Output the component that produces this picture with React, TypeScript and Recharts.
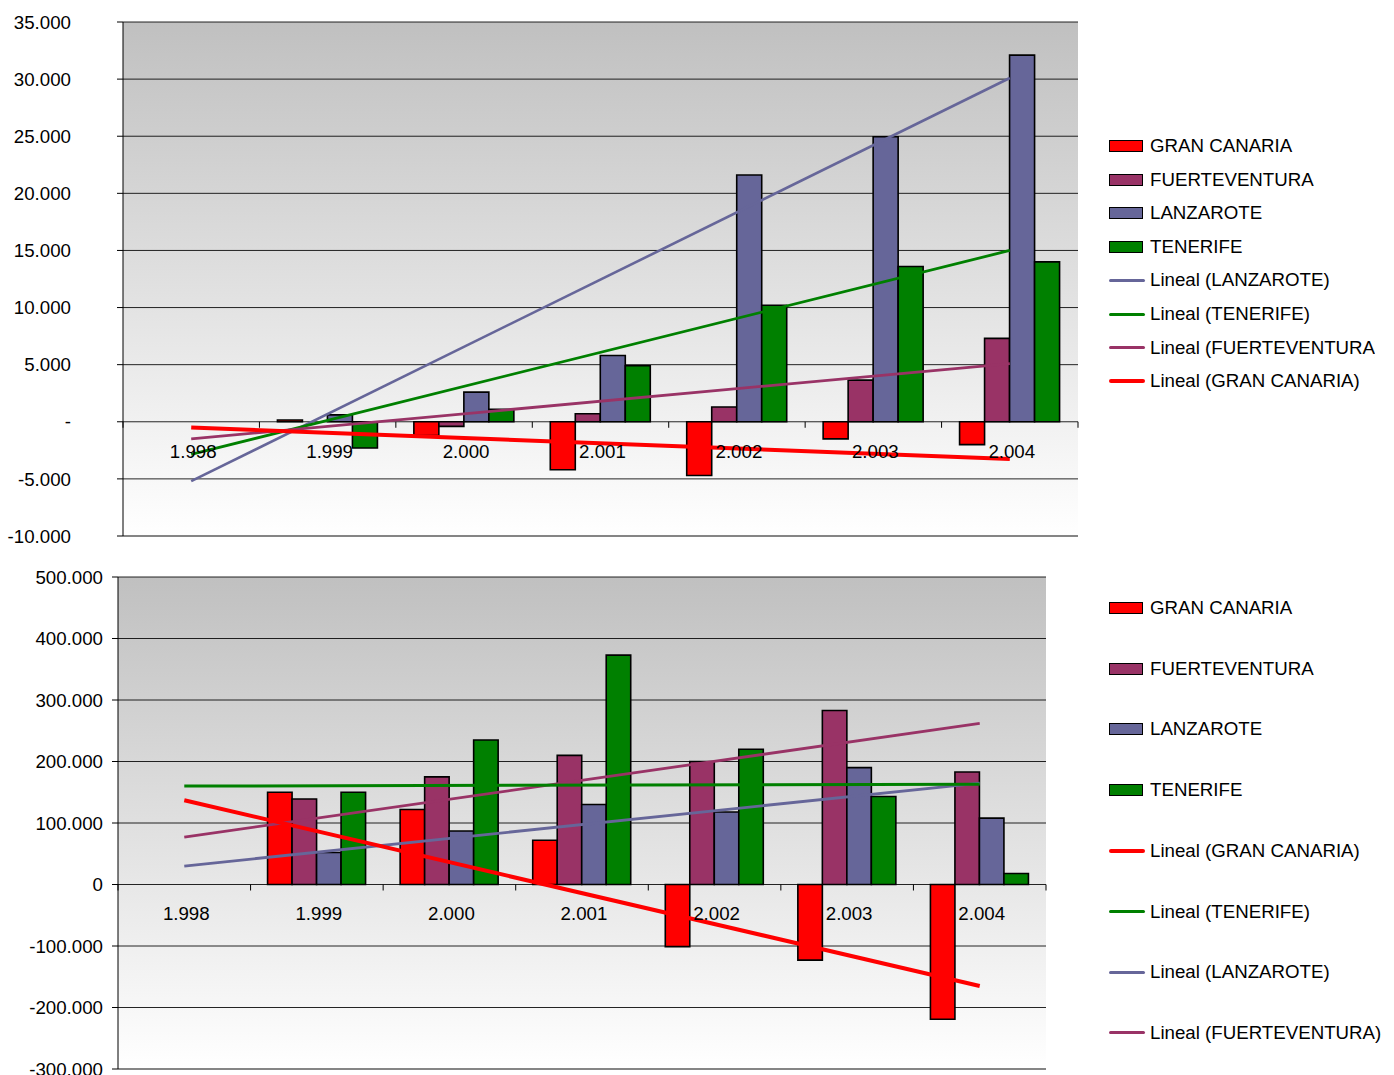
import { Bar, CartesianGrid, ComposedChart, Line, XAxis, YAxis } from 'recharts';

const FONT = '"Liberation Sans", Arial, sans-serif';
const FS = 18.7;

const years = ['1.998', '1.999', '2.000', '2.001', '2.002', '2.003', '2.004'];

// upper panel
const gcTop = [0, 150, -1200, -4200, -4700, -1500, -2000];
const fvTop = [0, 0, -400, 700, 1300, 3650, 7300];
const lzTop = [0, 600, 2600, 5800, 21600, 24950, 32100];
const tfTop = [0, -2300, 1100, 4900, 10200, 13600, 14000];
const gcTrendTop = [-500, null, null, null, null, null, -3250];
const fvTrendTop = [-1500, null, null, null, null, null, 5100];
const lzTrendTop = [-5200, null, null, null, null, null, 30100];
const tfTrendTop = [-2850, null, null, null, null, null, 15000];
const topTicks = [-10000, -5000, 0, 5000, 10000, 15000, 20000, 25000, 30000, 35000];

// lower panel
const gcBot = [0, 150000, 122000, 72000, -101000, -123000, -219000];
const fvBot = [0, 139000, 175000, 210000, 200000, 283000, 183000];
const lzBot = [0, 52000, 87000, 130000, 118000, 190000, 108000];
const tfBot = [0, 150000, 235000, 373000, 220000, 143000, 18000];
const gcTrendBot = [137000, null, null, null, null, null, -165000];
const fvTrendBot = [77000, null, null, null, null, null, 262000];
const lzTrendBot = [30000, null, null, null, null, null, 165000];
const tfTrendBot = [160000, null, null, null, null, null, 163000];
const botTicks = [-300000, -200000, -100000, 0, 100000, 200000, 300000, 400000, 500000];

const RED = '#ff0000';
const PLUM = '#993366';
const SLATE = '#666699';
const GREEN = '#008000';

function rows(gc: number[], fv: number[], lz: number[], tf: number[], tgc: any[], tfv: any[], tlz: any[], ttf: any[]) {
  return years.map((year, i) => ({
    year,
    gc: gc[i],
    fv: fv[i],
    lz: lz[i],
    tf: tf[i],
    tgc: tgc[i],
    tfv: tfv[i],
    tlz: tlz[i],
    ttf: ttf[i],
  }));
}

function fmt(v: number, zero: string) {
  if (v === 0) return zero;
  const s = Math.abs(v).toString().replace(/\B(?=(\d{3})+(?!\d))/g, '.');
  return (v < 0 ? '-' : '') + s;
}

// category labels sit under the zero line, not at the bottom of the plot
function zeroTick(plotTop: number, plotH: number, yMin: number, yMax: number, band: number, labelDy: number) {
  const zeroY = plotTop + (yMax / (yMax - yMin)) * plotH;
  return (props: any) => {
    const { x, payload, index } = props;
    return (
      <g>
        <line x1={x - band / 2} x2={x - band / 2} y1={zeroY} y2={zeroY + 6} stroke="#000" />
        {index === years.length - 1 && (
          <line x1={x + band / 2} x2={x + band / 2} y1={zeroY} y2={zeroY + 6} stroke="#000" />
        )}
        <text x={x + 2} y={zeroY + labelDy} textAnchor="middle" fontSize={FS} fontFamily={FONT} fill="#000">
          {payload.value}
        </text>
      </g>
    );
  };
}

interface PanelProps {
  id: string;
  data: any[];
  top: number;
  height: number;
  margin: { top: number; right: number; bottom: number; left: number };
  axisHeight: number;
  axisWidth: number;
  tickMargin: number;
  ticks: number[];
  zeroLabel: string;
  barSize: number;
  widths: { gc: number; fv: number; lz: number; tf: number };
  order: string[];
  labelDy: number;
}

function Panel(p: PanelProps) {
  const yMin = p.ticks[0];
  const yMax = p.ticks[p.ticks.length - 1];
  const width = 1394;
  const plotH = p.height - p.margin.top - p.margin.bottom - p.axisHeight;
  const band = (width - p.margin.right - p.axisWidth) / years.length;
  const trendColor: Record<string, string> = { tgc: RED, tfv: PLUM, tlz: SLATE, ttf: GREEN };
  const trendWidth: Record<string, number> = { tgc: p.widths.gc, tfv: p.widths.fv, tlz: p.widths.lz, ttf: p.widths.tf };
  return (
    <div style={{ position: 'absolute', left: 0, top: p.top }}>
      <ComposedChart width={width} height={p.height} data={p.data} margin={p.margin} barGap={0}>
        <defs>
          <linearGradient id={p.id} x1="0" y1="0" x2="0" y2="1">
            <stop offset="0%" stopColor="#c0c0c0" />
            <stop offset="100%" stopColor="#ffffff" />
          </linearGradient>
        </defs>
        <CartesianGrid vertical={false} stroke="#000" strokeOpacity={0.85} fill={`url(#${p.id})`} fillOpacity={1} />
        <XAxis
          dataKey="year"
          height={p.axisHeight}
          interval={0}
          tickLine={false}
          axisLine={{ stroke: '#808080', strokeWidth: 1.5 }}
          tick={zeroTick(p.margin.top, plotH, yMin, yMax, band, p.labelDy)}
        />
        <XAxis xAxisId="top" dataKey="year" orientation="top" height={0} tick={false} tickLine={false} axisLine={{ stroke: '#808080', strokeWidth: 1.5 }} />
        <YAxis
          domain={[yMin, yMax]}
          ticks={p.ticks}
          width={p.axisWidth}
          interval={0}
          tickSize={6}
          tickMargin={p.tickMargin}
          axisLine={{ stroke: '#000' }}
          tickLine={{ stroke: '#000' }}
          tick={{ fill: '#000', fontSize: FS, fontFamily: FONT }}
          tickFormatter={(v: number) => fmt(v, p.zeroLabel)}
        />
        <YAxis yAxisId="right" orientation="right" width={0} domain={[0, 1]} tick={false} tickLine={false} axisLine={{ stroke: '#808080', strokeWidth: 1.5 }} />
        <Bar dataKey="gc" name="GRAN CANARIA" fill={RED} stroke="#000" strokeWidth={1.6} barSize={p.barSize} isAnimationActive={false} />
        <Bar dataKey="fv" name="FUERTEVENTURA" fill={PLUM} stroke="#000" strokeWidth={1.6} barSize={p.barSize} isAnimationActive={false} />
        <Bar dataKey="lz" name="LANZAROTE" fill={SLATE} stroke="#000" strokeWidth={1.6} barSize={p.barSize} isAnimationActive={false} />
        <Bar dataKey="tf" name="TENERIFE" fill={GREEN} stroke="#000" strokeWidth={1.6} barSize={p.barSize} isAnimationActive={false} />
        {p.order.map((k) => (
          <Line
            key={k}
            dataKey={k}
            type="linear"
            stroke={trendColor[k]}
            strokeWidth={trendWidth[k]}
            dot={false}
            activeDot={false}
            connectNulls
            isAnimationActive={false}
          />
        ))}
      </ComposedChart>
    </div>
  );
}

interface LegendItem {
  label: string;
  color: string;
  kind: 'bar' | 'line';
  thick?: number;
}

function SideLegend({ items, top, gap, clip }: { items: LegendItem[]; top: number; gap: number; clip?: number }) {
  return (
    <div
      style={{
        position: 'absolute',
        left: 1109,
        top: 0,
        width: clip ?? 285,
        height: 1075,
        overflow: 'hidden',
        fontFamily: FONT,
        fontSize: FS,
        color: '#000',
      }}
    >
      {items.map((it, i) => (
        <div
          key={it.label}
          style={{
            position: 'absolute',
            left: 0,
            top: top + i * gap - 11,
            height: 22,
            display: 'flex',
            alignItems: 'center',
            whiteSpace: 'nowrap',
          }}
        >
          {it.kind === 'bar' ? (
            <div style={{ width: 34, height: 12, boxSizing: 'border-box', background: it.color, border: '1.6px solid #000', marginRight: 7 }} />
          ) : (
            <div style={{ width: 36, height: it.thick ?? 2.5, background: it.color, borderRadius: 2, marginRight: 5 }} />
          )}
          <span>{it.label}</span>
        </div>
      ))}
    </div>
  );
}

const barItems: LegendItem[] = [
  { label: 'GRAN CANARIA', color: RED, kind: 'bar' },
  { label: 'FUERTEVENTURA', color: PLUM, kind: 'bar' },
  { label: 'LANZAROTE', color: SLATE, kind: 'bar' },
  { label: 'TENERIFE', color: GREEN, kind: 'bar' },
];

const topLegend: LegendItem[] = [
  ...barItems,
  { label: 'Lineal (LANZAROTE)', color: SLATE, kind: 'line', thick: 3 },
  { label: 'Lineal (TENERIFE)', color: GREEN, kind: 'line', thick: 3 },
  { label: 'Lineal (FUERTEVENTURA)', color: PLUM, kind: 'line', thick: 3 },
  { label: 'Lineal (GRAN CANARIA)', color: RED, kind: 'line', thick: 4 },
];

const bottomLegend: LegendItem[] = [
  ...barItems,
  { label: 'Lineal (GRAN CANARIA)', color: RED, kind: 'line', thick: 4 },
  { label: 'Lineal (TENERIFE)', color: GREEN, kind: 'line', thick: 3 },
  { label: 'Lineal (LANZAROTE)', color: SLATE, kind: 'line', thick: 3 },
  { label: 'Lineal (FUERTEVENTURA)', color: PLUM, kind: 'line', thick: 3 },
];

export default function App() {
  const topData = rows(gcTop, fvTop, lzTop, tfTop, gcTrendTop, fvTrendTop, lzTrendTop, tfTrendTop);
  const botData = rows(gcBot, fvBot, lzBot, tfBot, gcTrendBot, fvTrendBot, lzTrendBot, tfTrendBot);
  return (
    <div style={{ position: 'absolute', left: 0, top: 0, width: 1394, height: 1075, overflow: 'hidden', background: '#fff' }}>
      <Panel
        id="bgTop"
        data={topData}
        top={0}
        height={548}
        margin={{ top: 22, right: 316, bottom: 0, left: 0 }}
        axisHeight={12}
        axisWidth={123}
        tickMargin={46}
        ticks={topTicks}
        zeroLabel="-"
        barSize={25}
        widths={{ gc: 4, fv: 2.8, lz: 2.6, tf: 2.8 }}
        order={['tlz', 'ttf', 'tfv', 'tgc']}
        labelDy={36}
      />
      <Panel
        id="bgBot"
        data={botData}
        top={548}
        height={527}
        margin={{ top: 29, right: 348, bottom: 0, left: 0 }}
        axisHeight={6}
        axisWidth={118}
        tickMargin={9}
        ticks={botTicks}
        zeroLabel="0"
        barSize={24.5}
        widths={{ gc: 4, fv: 2.8, lz: 2.8, tf: 3 }}
        order={['tlz', 'tfv', 'ttf', 'tgc']}
        labelDy={35}
      />
      <SideLegend items={topLegend} top={146} gap={33.6} clip={266} />
      <SideLegend items={bottomLegend} top={608} gap={60.7} />
    </div>
  );
}
